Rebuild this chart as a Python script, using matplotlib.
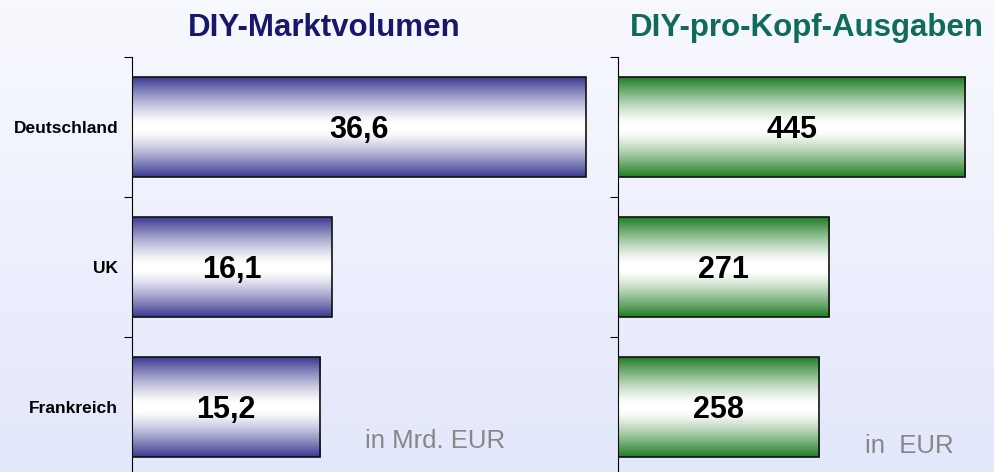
import numpy as np
import matplotlib.pyplot as plt
from matplotlib.colors import LinearSegmentedColormap

plt.rcParams['font.family'] = ['Liberation Sans', 'DejaVu Sans']

countries = ['Deutschland', 'UK', 'Frankreich']
markt = [36.6, 16.1, 15.2]
markt_labels = ['36,6', '16,1', '15,2']
prokopf = [445, 271, 258]
prokopf_labels = ['445', '271', '258']

W, H = 995, 472
fig = plt.figure(figsize=(W / 100, H / 100), dpi=100)

# background gradient
bg = fig.add_axes([0, 0, 1, 1], zorder=-10)
grad = np.linspace(0, 1, 256).reshape(-1, 1)
bg_cmap = LinearSegmentedColormap.from_list('bg', ['#f8f9fe', '#e3e7fb'])
bg.imshow(grad, aspect='auto', cmap=bg_cmap, extent=(0, 1, 0, 1), origin='upper')
bg.axis('off')


def bar_cmap(dark):
    t = np.linspace(-1, 1, 256)
    w = np.clip(np.abs(t) * 1.08 - 0.08, 0, 1) ** 1.3
    dark = np.array(plt.matplotlib.colors.to_rgb(dark))
    cols = (1 - w)[:, None] * np.ones(3) + w[:, None] * dark
    return cols.reshape(-1, 1, 3)


def panel(left_px, width_px, xmax, values, labels, dark, show_names):
    ax = fig.add_axes([left_px / W, (H - 477) / H, width_px / W, 420 / H])
    ax.patch.set_alpha(0)
    img = bar_cmap(dark)
    h = 0.71
    for i, v in enumerate(values):
        ax.imshow(img, aspect='auto', extent=(0, v, i + h / 2, i - h / 2),
                  origin='upper', zorder=2)
        ax.barh(i, v, height=h, fill=False, edgecolor='#111111', lw=1.2, zorder=3)
        ax.text(v / 2, i + 0.02, labels[i], ha='center', va='center',
                fontsize=22, fontweight='bold', color='black', zorder=4)
    ax.set_xlim(0, xmax)
    ax.set_ylim(2.5, -0.5)
    for s in ['top', 'right', 'bottom']:
        ax.spines[s].set_visible(False)
    ax.spines['left'].set_color('black')
    ax.set_xticks([])
    ax.set_yticks([-0.5, 0.5, 1.5, 2.5])
    ax.set_yticklabels([])
    ax.tick_params(axis='y', which='major', length=6, direction='out', color='black')
    if show_names:
        ax.set_yticks([0, 1, 2], minor=True)
        ax.set_yticklabels(countries, minor=True, fontsize=12.5, fontweight='bold')
        ax.tick_params(axis='y', which='minor', length=0, pad=10)
    return ax


ax1 = panel(132, 470, 470 / 12.4, markt, markt_labels, '#393990', True)
ax2 = panel(618, 370, 370 / 0.78, prokopf, prokopf_labels, '#1e7d22', False)

fig.text(324 / W, 1 - 28 / H, 'DIY-Marktvolumen', ha='center', va='center',
         fontsize=22.5, fontweight='bold', color='#17176b')
fig.text(807 / W, 1 - 28 / H, 'DIY-pro-Kopf-Ausgaben', ha='center', va='center',
         fontsize=22.5, fontweight='bold', color='#116b5c')
fig.text(365 / W, 1 - 441 / H, 'in Mrd. EUR', ha='left', va='center',
         fontsize=18.5, color='#878787')
fig.text(865 / W, 1 - 446 / H, 'in  EUR', ha='left', va='center',
         fontsize=18.5, color='#878787')

fig.savefig('out.png', dpi=100)
